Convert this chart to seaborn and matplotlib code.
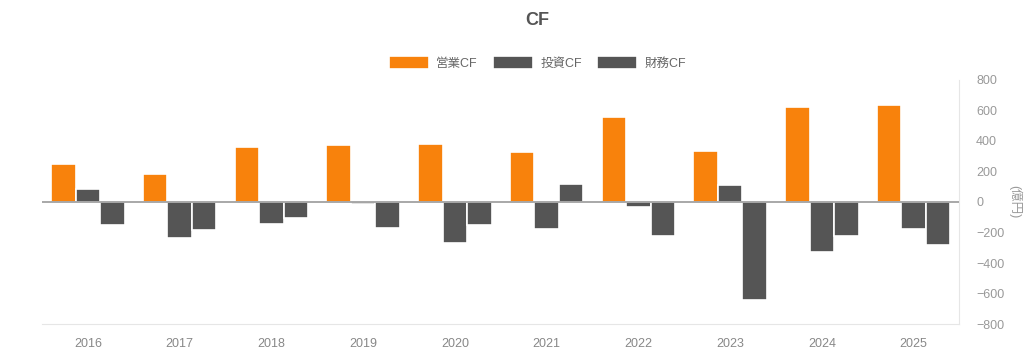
import pandas as pd
import numpy as np
import matplotlib.pyplot as plt
import seaborn as sns

# datos (億円)
years = ["2016", "2017", "2018", "2019", "2020", "2021", "2022", "2023", "2024", "2025"]
eigyo = [250, 185, 360, 375, 380, 330, 555, 335, 620, 635]
toshi = [85, -235, -145, -10, -270, -175, -35, 110, -325, -180]
zaimu = [-150, -185, -105, -170, -150, 120, -220, -645, -220, -280]
series = ["営業CF", "投資CF", "財務CF"]
colores = ["#F8820C", "#555555", "#555555"]

df = pd.DataFrame({"year": years, series[0]: eigyo, series[1]: toshi, series[2]: zaimu})
df = df.melt(id_vars="year", var_name="tipo", value_name="valor")

sns.set_style("white")
plt.rcParams['font.family'] = ['Liberation Sans', 'Noto Sans CJK JP']

fig = plt.figure(figsize=(10.24, 3.55), dpi=100)
ax = fig.add_axes([0.041, 0.087, 0.896, 0.688])

sns.barplot(data=df, x="year", y="valor", hue="tipo", hue_order=series,
            palette=colores, width=0.8, edgecolor="white", linewidth=1.2,
            saturation=1, ax=ax)

ax.set_ylim(-800, 800)
ax.set_yticks(np.arange(-800, 801, 200))
ax.yaxis.tick_right()
ax.tick_params(axis="y", length=0, labelsize=9, labelcolor="#999999", pad=12)
ax.tick_params(axis="x", length=0, labelsize=9, labelcolor="#888888", pad=10)
ax.set_xlabel("")
ax.set_ylabel("(億円)", rotation=270, color="#999999", fontsize=9, labelpad=12)
ax.yaxis.set_label_position("right")
ax.axhline(0, color="#999999", linewidth=1.2, zorder=5)

for s in ["top", "left"]:
    ax.spines[s].set_visible(False)
ax.spines["bottom"].set_color("#e6e6e6")
ax.spines["right"].set_color("#e6e6e6")

ax.legend(loc="center", bbox_to_anchor=(0.54, 1.07), ncol=3, frameon=False,
          fontsize=9, handlelength=3.2, handleheight=1.2, columnspacing=1.2,
          handletextpad=0.6, labelcolor="#666666")

fig.suptitle("CF", x=0.525, y=0.965, fontsize=13, fontweight="bold", color="#555555")

fig.savefig("out.png", dpi=100)
